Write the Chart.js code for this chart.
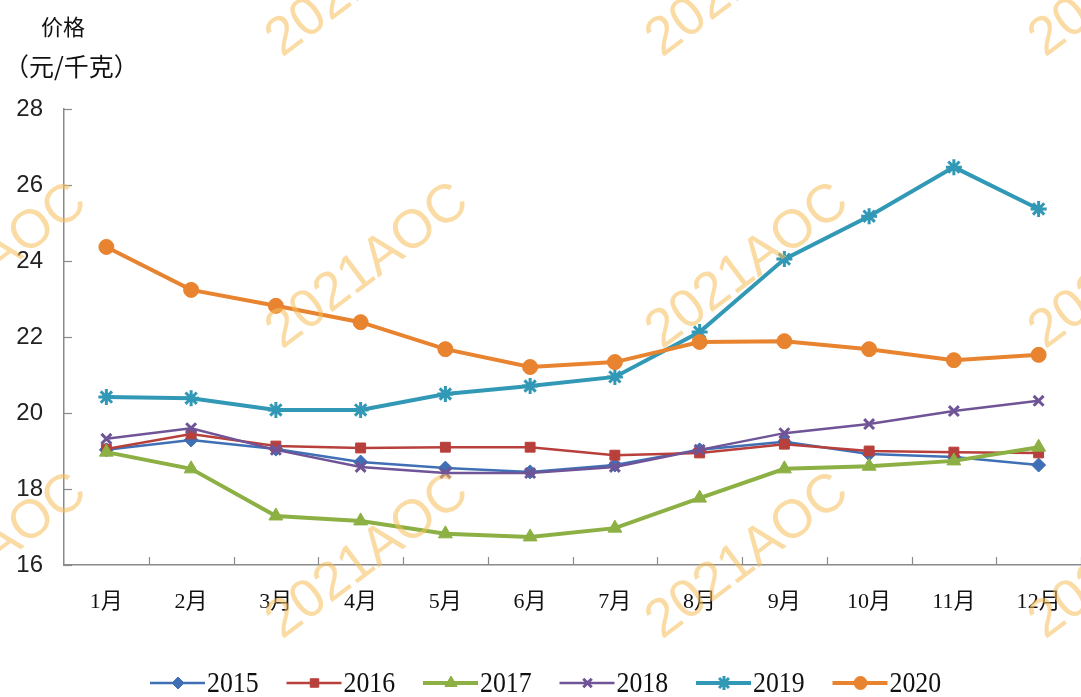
<!DOCTYPE html>
<html><head><meta charset="utf-8">
<script src="https://cdn.jsdelivr.net/npm/chart.js@4/dist/chart.umd.min.js"></script>
<style>html,body{margin:0;padding:0;background:#fff;}#wrap{width:1081px;height:697px;}</style>
</head><body><div id="wrap"><canvas id="c" width="1081" height="697"></canvas></div>
<script>
const months = ['1月','2月','3月','4月','5月','6月','7月','8月','9月','10月','11月','12月'];
const years = ['2015','2016','2017','2018','2019','2020'];
const s2015 = [19.03,19.29,19.05,18.71,18.55,18.45,18.63,19.03,19.24,18.92,18.84,18.63];
const s2016 = [19.05,19.45,19.13,19.08,19.10,19.10,18.89,18.95,19.18,19.00,18.97,18.95];
const s2017 = [18.97,18.53,17.29,17.16,16.82,16.74,16.97,17.76,18.53,18.60,18.74,19.10];
const s2018 = [19.32,19.60,19.03,18.58,18.42,18.42,18.58,19.03,19.47,19.71,20.05,20.32];
const s2019 = [20.42,20.39,20.08,20.08,20.50,20.71,20.95,22.13,24.05,25.18,26.47,25.37];
const s2020 = [24.37,23.24,22.82,22.39,21.68,21.21,21.34,21.87,21.89,21.68,21.39,21.53];
const yTicks = [16,18,20,22,24,26,28];
const yTitle1 = '价格';
const yTitle2 = '（元/千克）';
const watermark = '2021AOC';

const seriesData = [s2015,s2016,s2017,s2018,s2019,s2020];
const colors = ['#3F6FB5','#B8403C','#8CB043','#6F5497','#3198B5','#E8832F'];
const styles = ['rectRot','rect','triangle','crossRot','star','circle'];
const radii = [7,7,8,7,8,7.5];
const widths = [2.5,2.5,4,2.5,4,4];
const FONT = "'Liberation Serif','Noto Sans CJK SC',serif";

const datasets = years.map((y,i)=>({
  label:y, data:seriesData[i], borderColor:colors[i], backgroundColor:colors[i],
  borderWidth:widths[i], pointStyle:styles[i], pointRadius:radii[i],
  pointBorderWidth: styles[i]==='crossRot'||styles[i]==='star' ? 3 : 1,
  pointBorderColor:colors[i], pointBackgroundColor:colors[i],
  tension:0, order:5-i, clip:false
}));

const extras = {
  id:'extras',
  afterDraw(chart){
    const ctx = chart.ctx, ca = chart.chartArea;
    const ys = chart.scales.y;
    ctx.save();
    // inward tick marks
    ctx.strokeStyle = '#8a8a8a'; ctx.lineWidth = 1.2;
    ys.ticks.forEach((t,i)=>{
      const py = Math.round(ys.getPixelForTick(i))+0.5;
      ctx.beginPath(); ctx.moveTo(ca.left, py); ctx.lineTo(ca.left+8, py); ctx.stroke();
    });
    const n = months.length, w = (ca.right-ca.left)/n;
    for(let i=1;i<=n;i++){
      const px = Math.round(ca.left + i*w)+0.5;
      ctx.beginPath(); ctx.moveTo(px, ca.bottom); ctx.lineTo(px, ca.bottom-8); ctx.stroke();
    }
    // y axis title
    ctx.fillStyle = '#111';
    ctx.textBaseline = 'middle'; ctx.textAlign = 'left';
    ctx.font = "22px 'Noto Sans CJK SC',sans-serif";
    ctx.fillText(yTitle1, 41, 27);
    ctx.font = "25px 'Noto Sans CJK SC',sans-serif";
    ctx.fillText(yTitle2, 4, 66);
    // legend
    const lx0 = 150, ly = 683, step = 136.5;
    years.forEach((y,i)=>{
      const x = lx0 + i*step;
      ctx.strokeStyle = colors[i]; ctx.fillStyle = colors[i]; ctx.lineWidth = widths[i];
      ctx.beginPath(); ctx.moveTo(x, ly); ctx.lineTo(x+55, ly); ctx.stroke();
      ctx.lineWidth = datasets[i].pointBorderWidth;
      Chart.helpers.drawPoint(ctx, {pointStyle:styles[i], radius:radii[i]-1, rotation:0, borderWidth:datasets[i].pointBorderWidth}, x+28, ly);
      ctx.save();
      ctx.fillStyle = '#111';
      ctx.font = "30px 'Liberation Serif',serif";
      ctx.translate(x+57, ly+1);
      ctx.scale(0.86, 1);
      ctx.fillText(y, 0, 0);
      ctx.restore();
    });
    // watermark
    ctx.font = "54px 'Liberation Sans',sans-serif";
    ctx.fillStyle = 'rgba(245,190,90,0.55)';
    ctx.textBaseline = 'alphabetic'; ctx.textAlign = 'left';
    const startsX = [-100, 282, 662, 1045];
    const startsY = [58, 350, 640];
    startsY.forEach(sy=>startsX.forEach(sx=>{
      ctx.save(); ctx.translate(sx, sy); ctx.rotate(-37*Math.PI/180);
      ctx.fillText(watermark, 0, 0); ctx.restore();
    }));
    ctx.restore();
  }
};

new Chart(document.getElementById('c'), {
  type:'line',
  data:{labels:months, datasets},
  options:{
    responsive:false, animation:false,
    layout:{autoPadding:false, padding:{top:109,right:0,left:0,bottom:0}},
    plugins:{legend:{display:false}, tooltip:{enabled:false}},
    scales:{
      x:{
        offset:true,
        grid:{display:false, drawTicks:false},
        border:{display:true, color:'#8a8a8a', width:1.5},
        ticks:{color:'#111', font:{family:FONT, size:22}, padding:24, maxRotation:0, autoSkip:false},
        afterFit(s){ s.height = 132; s.paddingLeft = 0; s.paddingRight = 0; }
      },
      y:{
        min:16, max:28,
        afterBuildTicks(s){ s.ticks = yTicks.map(v=>({value:v})); },
        grid:{display:false, drawTicks:false},
        border:{display:true, color:'#8a8a8a', width:1.5},
        ticks:{color:'#222', font:{family:"'Liberation Sans',sans-serif", size:24}, padding:21},
        afterFit(s){ s.width = 64; s.paddingTop = 0; s.paddingBottom = 0; }
      }
    }
  },
  plugins:[extras]
});
</script>
</body></html>
